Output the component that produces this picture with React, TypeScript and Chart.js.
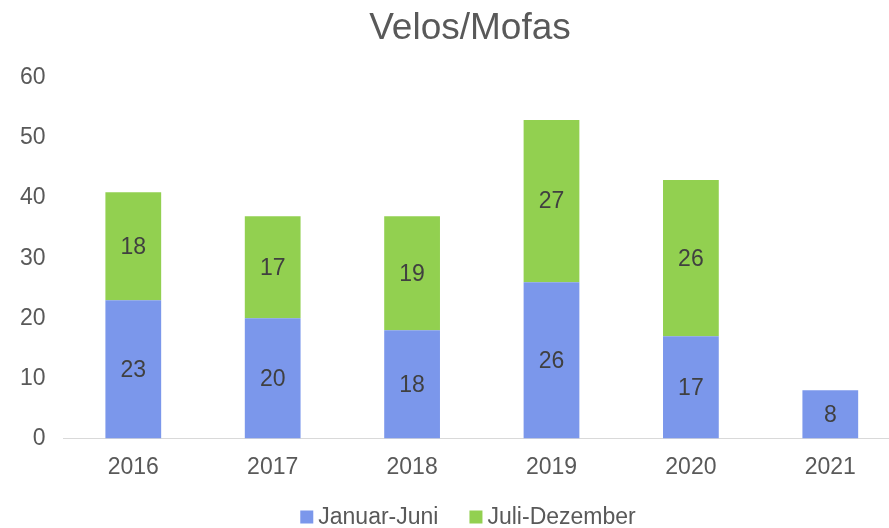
import React, { useEffect, useRef } from "react";
import { Chart, registerables } from "chart.js";

Chart.register(...registerables);

const categories = ["2016", "2017", "2018", "2019", "2020", "2021"];
const janJun = [23, 20, 18, 26, 17, 8];
const julDez = [18, 17, 19, 27, 26, null];
const seriesNames = ["Januar-Juni", "Juli-Dezember"];
const seriesColors = ["#7B97EB", "#92D050"];
const chartTitle = "Velos/Mofas";

const FONT = "'Liberation Sans', Arial, sans-serif";

const dataLabelPlugin = {
  id: "dataLabels",
  afterDatasetsDraw(chart: any) {
    const ctx = chart.ctx;
    ctx.save();
    ctx.font = `23px ${FONT}`;
    ctx.fillStyle = "#404040";
    ctx.textAlign = "center";
    ctx.textBaseline = "middle";
    chart.data.datasets.forEach((ds: any, di: number) => {
      const meta = chart.getDatasetMeta(di);
      meta.data.forEach((el: any, i: number) => {
        const v = ds.data[i];
        if (v === null || v === undefined) return;
        const p = el.getProps(["x", "y", "base"], true);
        ctx.fillText(String(v), p.x, (p.y + p.base) / 2 + 1);
      });
    });
    ctx.restore();
  },
};

const titleLegendPlugin = {
  id: "titleLegend",
  afterDraw(chart: any) {
    const ctx = chart.ctx;
    ctx.save();
    // title
    ctx.font = `37px ${FONT}`;
    ctx.fillStyle = "#595959";
    ctx.textAlign = "center";
    ctx.textBaseline = "middle";
    ctx.fillText(chartTitle, 470, 29);
    // legend
    ctx.font = `23px ${FONT}`;
    ctx.textAlign = "left";
    const box = 13;
    const gap = 5;
    const itemGap = 31;
    const widths = seriesNames.map((n) => ctx.measureText(n).width);
    const total = widths.reduce((a, w) => a + box + gap + w, 0) + itemGap * (seriesNames.length - 1);
    let x = 468 - total / 2;
    const cy = 517;
    seriesNames.forEach((n, i) => {
      ctx.fillStyle = seriesColors[i];
      ctx.fillRect(x, cy - box / 2, box, box);
      x += box + gap;
      ctx.fillStyle = "#595959";
      ctx.fillText(n, x, cy + 1);
      x += widths[i] + itemGap;
    });
    ctx.restore();
  },
};

export default function App() {
  const ref = useRef<HTMLCanvasElement | null>(null);
  useEffect(() => {
    document.body.style.overflow = "hidden";
    document.documentElement.style.overflow = "hidden";
    const chart = new Chart(ref.current as HTMLCanvasElement, {
      type: "bar",
      data: {
        labels: categories,
        datasets: [
          {
            label: seriesNames[0],
            data: janJun,
            backgroundColor: seriesColors[0],
            barPercentage: 0.4,
            categoryPercentage: 1,
          },
          {
            label: seriesNames[1],
            data: julDez,
            backgroundColor: seriesColors[1],
            barPercentage: 0.4,
            categoryPercentage: 1,
          },
        ],
      },
      options: {
        responsive: false,
        animation: false,
        layout: { padding: { left: 2, right: 0, top: 78, bottom: 32 } },
        plugins: {
          title: { display: false },
          legend: { display: false },
          tooltip: { enabled: false },
        },
        scales: {
          x: {
            stacked: true,
            grid: { display: false, drawTicks: false },
            border: { display: true, color: "#D9D9D9", width: 1 },
            ticks: { color: "#595959", font: { family: FONT, size: 23 }, padding: 15 },
          },
          y: {
            stacked: true,
            min: 0,
            max: 60,
            grid: { display: false, drawTicks: false },
            border: { display: false },
            ticks: {
              stepSize: 10,
              color: "#595959",
              font: { family: FONT, size: 23 },
              padding: 18,
            },
          },
        },
      },
      plugins: [dataLabelPlugin, titleLegendPlugin],
    } as any);
    return () => chart.destroy();
  }, []);
  return (
    <div style={{ position: "fixed", left: 0, top: 0, width: 900, height: 528 }}>
      <canvas ref={ref} width={900} height={528} style={{ display: "block" }} />
    </div>
  );
}
